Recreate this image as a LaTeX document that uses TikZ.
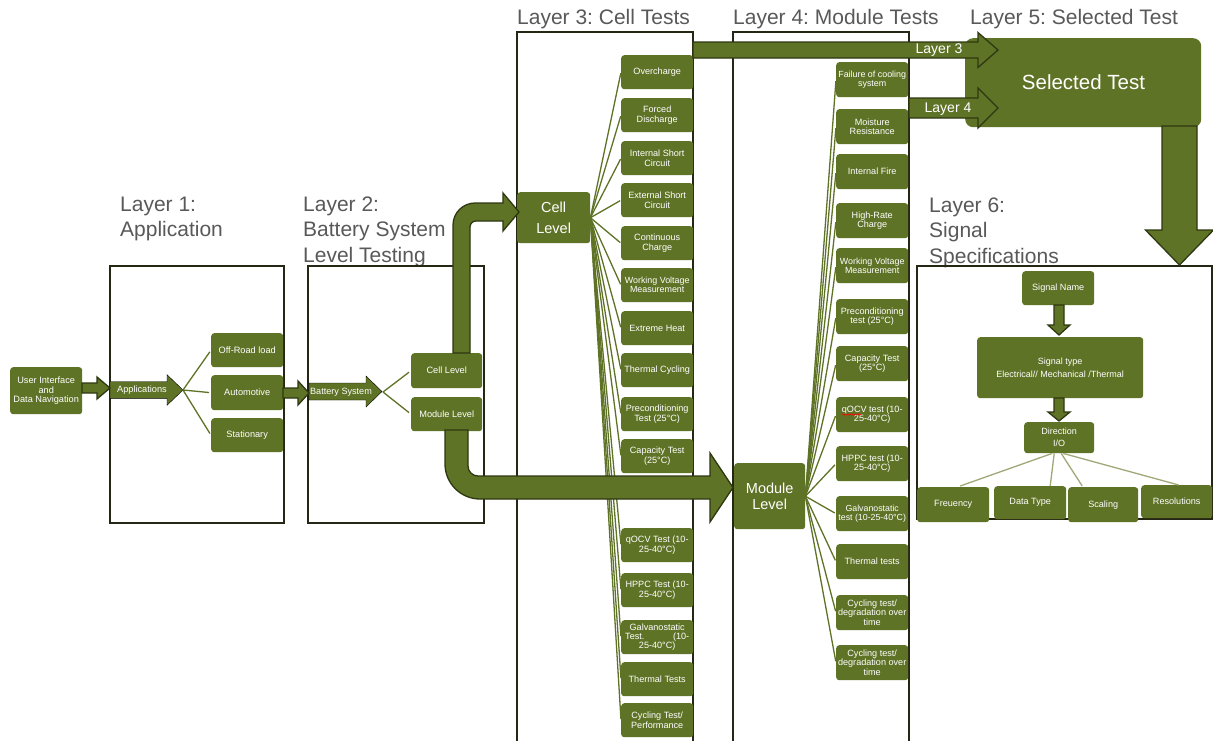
\documentclass[tikz,border=0pt]{standalone}
\usepackage{fontspec}
\setmainfont{Liberation Sans}
\frenchspacing
\usetikzlibrary{calc,decorations.pathmorphing}
\definecolor{G}{HTML}{5F7326}
\definecolor{GD}{HTML}{2E3812}
\definecolor{GL}{HTML}{A0A878}
\definecolor{BX}{HTML}{262614}
\definecolor{TG}{HTML}{595959}
\tikzset{
 gbox/.style={fill=G, rounded corners=3pt, text=white, align=center, inner sep=0pt,
   font=\fontsize{9.1}{9.2}\selectfont, anchor=north west, minimum width=72pt, minimum height=35pt},
 layerbox/.style={draw=BX, line width=1.3pt},
 title/.style={text=TG, font=\fontsize{21}{25.5}\selectfont, align=left, inner sep=0pt, anchor=north west},
 barrow/.style={fill=G, draw=GD, line width=1.3pt, line join=miter},
 farrow/.style={fill=G},
 fan/.style={draw=G, line width=1.3pt},
 fanl/.style={draw=GL, line width=1.3pt},
 wlabel/.style={text=white, inner sep=0pt},
}
\newcommand\hblock[7]{\draw[#1] (#2,#4-#5) -- (#3-#7,#4-#5) -- (#3-#7,#4-#6) -- (#3,#4) -- (#3-#7,#4+#6) -- (#3-#7,#4+#5) -- (#2,#4+#5) -- cycle;}
\newcommand\vblock[7]{\draw[#1] (#2-#5,#3) -- (#2-#5,#4-#7) -- (#2-#6,#4-#7) -- (#2,#4) -- (#2+#6,#4-#7) -- (#2+#5,#4-#7) -- (#2+#5,#3) -- cycle;}
\begin{document}
\begin{tikzpicture}[x=1pt,y=-1pt]
\fill[white] (0,0) rectangle (1213,740);
\useasboundingbox (0,0) rectangle (1213,740);

% titles
\node[title] (t1) at (120,196.5) {Layer 1:\\Application};
\node[title] (t2) at (303,196.5) {Layer 2:\\Battery System\\Level Testing};
\node[title] (t3) at (517,9.5) {Layer 3: Cell Tests};
\node[title] (t4) at (733,9.5) {Layer 4: Module Tests};
\node[title] (t5) at (970,9) {Layer 5: Selected Test};
\node[title] (t6) at (929,197.5) {Layer 6:\\Signal\\Specifications};

% layer boxes
\draw[layerbox] (110,266) rectangle (284,523);
\draw[layerbox] (308,266) rectangle (484,523);
\draw[layerbox] (517,742) -- (517,32) -- (693,32) -- (693,742);
\draw[layerbox] (733,742) -- (733,32) -- (909,32) -- (909,742);
\draw[layerbox] (917,266) rectangle (1212,519);

% layer 1
\node[gbox, minimum width=72pt, minimum height=47pt, font=\fontsize{9.2}{9.3}\selectfont] (ui) at (10,367) {User Interface\\and\\Data Navigation};
\hblock{farrow}{110}{183}{390}{8.3}{15.3}{16}
\node[wlabel, font=\fontsize{9.2}{9}\selectfont] (app) at (142,390) {Applications};
\coordinate (apptip) at (183,390);
\node[gbox, font=\fontsize{9.2}{9}\selectfont, minimum height=34pt] (off) at (211,333) {Off-Road load};
\node[gbox, font=\fontsize{9.2}{9}\selectfont] (auto) at (211,375) {Automotive};
\node[gbox, font=\fontsize{9.2}{9}\selectfont, minimum height=34pt] (stat) at (211,418) {Stationary};
\foreach \n in {off,auto,stat} \draw[fan, shorten >=2pt] (apptip) -- (\n.west);

% layer 2
\hblock{farrow}{309}{382}{391.5}{8.5}{15.5}{16}
\node[wlabel, font=\fontsize{9.1}{9}\selectfont] (bs) at (341,392) {Battery System};
\coordinate (bstip) at (383,392);
\node[gbox, font=\fontsize{9.2}{9}\selectfont, minimum width=71pt] (cell2) at (411,353) {Cell Level};
\node[gbox, font=\fontsize{9.2}{9}\selectfont, minimum width=71pt, minimum height=34pt] (mod2) at (411,397) {Module Level};
\foreach \n in {cell2,mod2} \draw[fan, shorten >=2.5pt] (bstip) -- (\n.west);

% layer 3
\node[gbox, minimum width=73pt, minimum height=51pt, font=\fontsize{14.5}{21}\selectfont] (cell3) at (517,192) {Cell\\Level};
\node[gbox, minimum height=34pt] (c1) at (621,55) {Overcharge};
\node[gbox, minimum height=34pt] (c2) at (621,98) {Forced\\Discharge};
\node[gbox, minimum height=34pt] (c3) at (621,141) {Internal Short\\Circuit};
\node[gbox, minimum height=34pt] (c4) at (621,183) {External Short\\Circuit};
\node[gbox, minimum height=34pt] (c5) at (621,226) {Continuous\\Charge};
\node[gbox, minimum height=34pt, font=\fontsize{8.9}{9.2}\selectfont] (c6) at (621,268) {Working Voltage\\Measurement};
\node[gbox, minimum height=34pt] (c7) at (621,311) {Extreme Heat};
\node[gbox, minimum height=34pt] (c8) at (621,353) {Thermal Cycling};
\node[gbox, minimum height=34pt] (c9) at (621,397) {Preconditioning\\Test (25°C)};
\node[gbox, minimum height=34pt] (c10) at (621,439) {Capacity Test\\(25°C)};
\node[gbox, minimum height=34pt] (c11) at (621,528) {qOCV Test (10-\\25-40°C)};
\node[gbox, minimum height=34pt] (c12) at (621,573) {HPPC Test (10-\\25-40°C)};
\node[gbox, minimum height=34pt] (c13) at (621,620) {Galvanostatic\\\makebox[64pt]{Test.\hfill(10-}\\25-40°C)};
\node[gbox, minimum height=34pt] (c14) at (621,662) {Thermal Tests};
\node[gbox, minimum height=34pt] (c15) at (621,703) {Cycling Test/\\Performance};
\foreach \n in {c1,c2,c3,c4,c5,c6,c7,c8,c9,c10,c11,c12,c13,c14,c15}
  \draw[fan, shorten >=1pt] (cell3.east) -- (\n.west);

% layer 4
\node[gbox, minimum width=71pt, minimum height=66pt, font=\fontsize{14.5}{15.5}\selectfont] (mod4) at (734,463) {Module\\Level};
\node[gbox, font=\fontsize{8.9}{9.2}\selectfont] (m1) at (836,62) {Failure of cooling\\system};
\node[gbox] (m2) at (836,109) {Moisture\\Resistance};
\node[gbox] (m3) at (836,154) {Internal Fire};
\node[gbox] (m4) at (836,203) {High-Rate\\Charge};
\node[gbox, font=\fontsize{8.9}{9.2}\selectfont] (m5) at (836,248) {Working Voltage\\Measurement};
\node[gbox] (m6) at (836,299) {Preconditioning\\test (25°C)};
\node[gbox] (m7) at (836,346) {Capacity Test\\(25°C)};
\node[gbox] (m8) at (836,397) {qOCV test (10-\\25-40°C)};
\node[gbox] (m9) at (836,446) {HPPC test (10-\\25-40°C)};
\node[gbox, font=\fontsize{8.8}{9.2}\selectfont] (m10) at (836,496) {Galvanostatic\\test (10-25-40°C)};
\node[gbox] (m11) at (836,544) {Thermal tests};
\node[gbox] (m12) at (836,595) {Cycling test/\\degradation over\\time};
\node[gbox] (m13) at (836,645) {Cycling test/\\degradation over\\time};
\foreach \n in {m1,m2,m3,m4,m5,m6,m7,m8,m9,m10,m11,m12,m13}
  \draw[fan, shorten >=1.5pt] (mod4.east) -- (\n.west);
\draw[red, line width=0.6pt, decorate, decoration={snake, amplitude=0.7pt, segment length=2.6pt}] (842,414.5) -- (861,414.5);

% layer 5
\node[fill=G, rounded corners=8pt, minimum width=236pt, minimum height=89pt, anchor=north west, inner sep=0pt] (sel) at (965,38) {};
\node[wlabel, font=\fontsize{20.5}{20.5}\selectfont] (selt) at (1083.5,82) {Selected Test};

% layer 6
\node[gbox, minimum height=34pt] (sn) at (1022,271) {Signal Name};
\node[gbox, font=\fontsize{9}{13}\selectfont, minimum width=166pt, minimum height=61pt] (st) at (977,337) {Signal type\\Electrical// Mechanical /Thermal};
\node[gbox, font=\fontsize{9}{12}\selectfont, minimum width=70pt, minimum height=31pt] (dir) at (1024,422) {Direction\\I/O};
\node[gbox] (fq) at (917,487) {Freuency};
\node[gbox, minimum height=33pt] (dt) at (994,486) {Data Type};
\node[gbox, minimum width=70pt] (sc) at (1068,487) {Scaling};
\node[gbox, minimum width=71pt, minimum height=33pt] (rs) at (1141,485) {Resolutions};
\draw[fanl] ($(dir.south)+(-7,0)$) -- ($(fq.north)+(7,-1)$);
\draw[fanl] ($(dir.south)+(-5,0)$) -- ($(dt.north)+(20,0)$);
\draw[fanl] ($(dir.south)+(2,0)$) -- ($(sc.north)+(-21,-1)$);
\draw[fanl] ($(dir.south)+(4,0)$) -- ($(rs.north)+(2,0)$);
\vblock{barrow}{1059}{305}{335}{5}{11}{10}
\vblock{barrow}{1059}{398}{421}{5}{11}{9}

% block arrows
\hblock{barrow}{82}{110}{388}{5}{11}{13}
\hblock{barrow}{283}{309}{393}{5}{12}{11}
\draw[barrow] (453,353) -- (453,225) .. controls (453,212.9) and (462.9,203) .. (475,203) -- (503,203) -- (503,193) -- (519,212) -- (503,231) -- (503,221) -- (476,221) .. controls (472.7,221) and (470,223.7) .. (470,227) -- (470,353) -- cycle;
\draw[barrow] (445,430) -- (445,464) .. controls (445,483.3) and (460.7,499) .. (480,499) -- (710,499) -- (710,522) -- (733,487.5) -- (710,453) -- (710,476) -- (478,476) .. controls (472.5,476) and (468,471.5) .. (468,466) -- (468,430) -- cycle;
\hblock{barrow}{693}{998}{50}{8}{17.5}{20}
\hblock{barrow}{909}{998}{108}{10}{20}{20}
\node[wlabel, font=\fontsize{14}{14}\selectfont] (l3) at (939,50) {Layer 3};
\node[wlabel, font=\fontsize{14}{14}\selectfont] (l4) at (948,109) {Layer 4};
\vblock{barrow}{1179.5}{126}{265}{17.5}{34}{35}
\end{tikzpicture}
\end{document}
